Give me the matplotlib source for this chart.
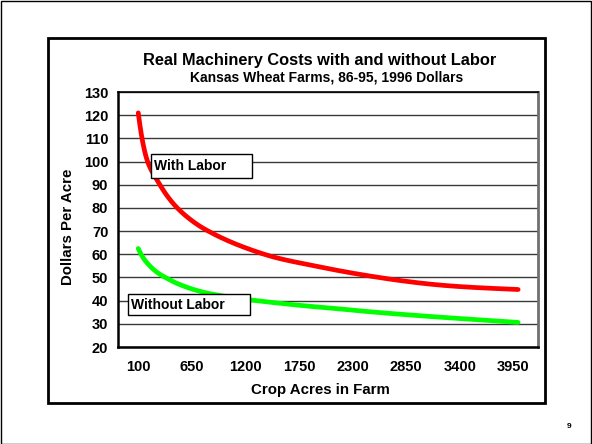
import matplotlib
matplotlib.use("Agg")
import matplotlib.pyplot as plt
from matplotlib.patches import Rectangle
import numpy as np

plt.rcParams['font.family'] = ['Liberation Sans', 'DejaVu Sans']
plt.rcParams['font.weight'] = 'bold'

# values
acres = [100, 150, 200, 300, 400, 500, 700, 850, 1200, 1500, 1850,
         2100, 2450, 2800, 3150, 3500, 4000]
with_labor = [121, 107.5, 99.5, 91.5, 85, 80, 73, 69.3, 62.8, 58.7, 55.5,
              53.4, 50.8, 48.6, 46.9, 45.8, 44.8]
without_labor = [62.5, 58.5, 55.8, 52, 49.5, 47.4, 44.4, 42.9, 40.6, 39.1, 37.6,
                 36.7, 35.3, 34.1, 33, 32, 30.6]
xticks = [100, 650, 1200, 1750, 2300, 2850, 3400, 3950]
yticks = list(range(20, 131, 10))

W, H = 592, 444
fig = plt.figure(figsize=(W / 100, H / 100), dpi=100)

def fx(px):
    return px / W

def fy(py):
    return 1 - py / H

def smooth(xp, yp, n=30):
    # catmull-rom through the read points, in log-acre space
    lx = np.log(np.asarray(xp, float))
    y = np.asarray(yp, float)
    px = np.concatenate([[2 * lx[0] - lx[1]], lx, [2 * lx[-1] - lx[-2]]])
    py = np.concatenate([[2 * y[0] - y[1]], y, [2 * y[-1] - y[-2]]])
    ox, oy = [], []
    t = np.linspace(0, 1, n, endpoint=False)
    for i in range(1, len(px) - 2):
        for arr, out in ((px, ox), (py, oy)):
            p0, p1, p2, p3 = arr[i - 1], arr[i], arr[i + 1], arr[i + 2]
            out.extend(0.5 * (2 * p1 + (-p0 + p2) * t + (2 * p0 - 5 * p1 + 4 * p2 - p3) * t ** 2
                              + (-p0 + 3 * p1 - 3 * p2 + p3) * t ** 3))
    ox.append(lx[-1])
    oy.append(y[-1])
    return np.exp(ox), np.array(oy)

# outer border and chart frame
fig.patches.append(Rectangle((0.001, 0.001), 0.997, 0.997, transform=fig.transFigure,
                             fill=False, lw=1, ec='black'))
fig.patches.append(Rectangle((fx(48), fy(403)), fx(545) - fx(48), fy(38) - fy(403),
                             transform=fig.transFigure, fill=False, lw=2, ec='black'))

ax = fig.add_axes([fx(118), fy(347), fx(538) - fx(118), fy(92) - fy(347)])

ax.plot(*smooth(acres, with_labor), color='#ff0000', lw=3.4,
        solid_capstyle='round', zorder=3)
ax.plot(*smooth(acres, without_labor), color='#00ff00', lw=3.4,
        solid_capstyle='round', zorder=3)

ax.set_xlim(-108, 4204)
ax.set_ylim(20, 130)
ax.set_xticks(xticks)
ax.set_yticks(yticks)
ax.grid(axis='y', color='#3a3a3a', lw=1)
ax.set_axisbelow(True)
ax.tick_params(axis='x', length=0, pad=9, labelsize=10.5)
ax.tick_params(axis='y', length=0, pad=7, labelsize=10.5)
for s in ['left', 'bottom']:
    ax.spines[s].set_linewidth(1.8)
    ax.spines[s].set_color('black')
ax.spines['top'].set_color('black')
ax.spines['top'].set_linewidth(1.2)
ax.spines['right'].set_color('#707070')
ax.spines['right'].set_linewidth(2)

fig.text(fx(320), fy(61), 'Real Machinery Costs with and without Labor',
         ha='center', va='center', fontsize=11.8, weight='bold')
fig.text(fx(327), fy(77), 'Kansas Wheat Farms, 86-95, 1996 Dollars',
         ha='center', va='center', fontsize=10, weight='bold')
fig.text(fx(320), fy(390), 'Crop Acres in Farm', ha='center', va='center',
         fontsize=10.8, weight='bold')
fig.text(fx(68), fy(227), 'Dollars Per Acre', ha='center', va='center',
         rotation=90, fontsize=10.8, weight='bold')
fig.text(fx(569), fy(426), '9', ha='center', va='center', fontsize=6, weight='bold')

# series label boxes
for (x0, y0, x1, y1, label) in [(151, 154, 252, 178, 'With Labor'),
                                (128, 294, 250, 315, 'Without Labor')]:
    fig.patches.append(Rectangle((fx(x0), fy(y1)), fx(x1) - fx(x0), fy(y0) - fy(y1),
                                 transform=fig.transFigure, fc='white', ec='black',
                                 lw=1, zorder=5))
    fig.text(fx(x0 + 3), fy((y0 + y1) / 2), label, ha='left', va='center',
             fontsize=10, weight='bold', zorder=6)

fig.savefig('out.png', dpi=100)
